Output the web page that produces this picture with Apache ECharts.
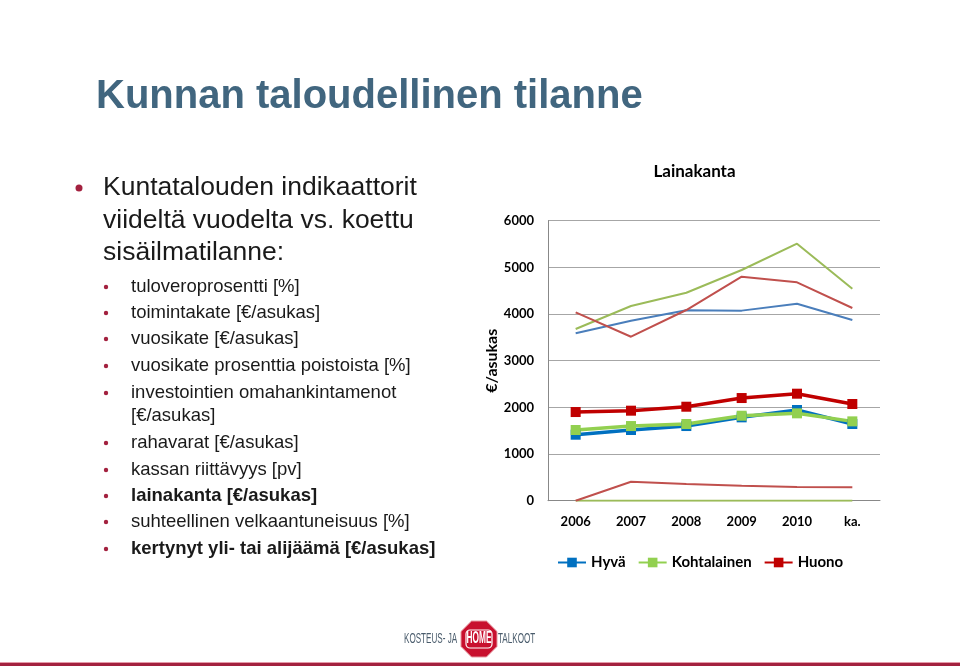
<!DOCTYPE html>
<html><head><meta charset="utf-8">
<script src="https://cdn.jsdelivr.net/npm/echarts@6/dist/echarts.min.js"></script>
<style>html,body{margin:0;padding:0;background:#fff}#c{width:960px;height:666px}</style>
</head><body><div id="c"></div>
<script>
const categories = ['2006','2007','2008','2009','2010','ka.'];
const hyva = [1414, 1515, 1600, 1786, 1943, 1643];
const kohtalainen = [1515, 1600, 1643, 1821, 1872, 1700];
const huono = [1900, 1929, 2014, 2200, 2293, 2072];
const thinBlue = [3587, 3857, 4080, 4073, 4221, 3872];
const thinGreen = [3679, 4172, 4457, 4943, 5507, 4543];
const thinRed = [4036, 3514, 4086, 4800, 4679, 4129];
const thinGreenLow = [0, 0, 0, 0, 0, 0];
const thinRedLow = [0, 407, 357, 321, 293, 286];
const yTicks = [0, 1000, 2000, 3000, 4000, 5000, 6000];

const chartTitle = 'Lainakanta';
const slideTitle = 'Kunnan taloudellinen tilanne';
const mainBullet = ['Kuntatalouden indikaattorit', 'viideltä vuodelta vs. koettu', 'sisäilmatilanne:'];
const subBullets = [
  {t:'tuloveroprosentti [%]', b:false},
  {t:'toimintakate [€/asukas]', b:false},
  {t:'vuosikate [€/asukas]', b:false},
  {t:'vuosikate prosenttia poistoista [%]', b:false},
  {t:'investointien omahankintamenot', b:false, cont:'[€/asukas]'},
  {t:'rahavarat [€/asukas]', b:false},
  {t:'kassan riittävyys [pv]', b:false},
  {t:'lainakanta [€/asukas]', b:true},
  {t:'suhteellinen velkaantuneisuus [%]', b:false},
  {t:'kertynyt yli- tai alijäämä [€/asukas]', b:true}
];

const chartFont = 'Lato, "Open Sans", sans-serif';
const slideFont = '"Liberation Sans", Arial, sans-serif';

const graphics = [];
graphics.push({type:'text', x:96, y:97, style:{text:slideTitle, font:'bold 40px '+slideFont, fill:'#41667F', verticalAlign:'middle'}});
const mainYs = [188, 221, 253];
mainBullet.forEach((t,i)=>{
  graphics.push({type:'text', x:103, y:mainYs[i], style:{text:t, font:'26.5px '+slideFont, fill:'#1a1a1a', verticalAlign:'middle'}});
});
graphics.push({type:'circle', shape:{cx:79, cy:188, r:3.5}, style:{fill:'#A3213F'}});
const subYs = [287, 313, 339, 366, 393, 443, 470, 496, 522, 549];
subBullets.forEach((s,i)=>{
  const yy = subYs[i];
  graphics.push({type:'circle', shape:{cx:106, cy:yy, r:2.2}, style:{fill:'#A3213F'}});
  graphics.push({type:'text', x:131, y:yy, style:{text:s.t, font:(s.b?'bold ':'')+'18.5px '+slideFont, fill:'#1a1a1a', verticalAlign:'middle'}});
  if (s.cont) graphics.push({type:'text', x:131, y:yy+23, style:{text:s.cont, font:'18.5px '+slideFont, fill:'#1a1a1a', verticalAlign:'middle'}});
});
graphics.push({type:'text', x:694.5, y:172, style:{text:chartTitle, font:'bold 17px '+chartFont, fill:'#000', align:'center', verticalAlign:'middle'}});
// logo
graphics.push({type:'text', x:404, y:639, scaleX:0.54, style:{text:'KOSTEUS- JA', font:'15px '+slideFont, fill:'#4A5C6C', verticalAlign:'middle'}});
graphics.push({type:'polygon', shape:{points:(function(){const p=[];for(let k=0;k<8;k++){const a=Math.PI/8+k*Math.PI/4;p.push([479+19.5*Math.cos(a),639+19.5*Math.sin(a)]);}return p;})()}, style:{fill:'#C8102E', stroke:'#E7A0A8', lineWidth:1}});
graphics.push({type:'rect', shape:{x:466, y:630, width:26, height:18, r:4}, style:{fill:'none', stroke:'#fff', lineWidth:1.2}});
graphics.push({type:'text', x:479, y:639, scaleX:0.52, style:{text:'HOME', font:'bold 16px '+slideFont, fill:'#fff', align:'center', verticalAlign:'middle'}});
graphics.push({type:'text', x:498, y:639, scaleX:0.54, style:{text:'TALKOOT', font:'15px '+slideFont, fill:'#4A5C6C', verticalAlign:'middle'}});
graphics.push({type:'rect', shape:{x:0, y:663, width:960, height:3}, style:{fill:'#A3213F'}});
graphics.push({type:'rect', shape:{x:0, y:662, width:960, height:1}, style:{fill:'#E59AA8'}});

function thin(name, data, color){
  return {name, type:'line', data, symbol:'none', lineStyle:{width:2, color}, itemStyle:{color}, z:1, silent:true};
}
function thick(name, data, color){
  return {name, type:'line', data, symbol:'rect', symbolSize:10, lineStyle:{width:3.5, color}, itemStyle:{color}, z:3};
}

const chart = echarts.init(document.getElementById('c'));
chart.setOption({
  animation:false,
  backgroundColor:'#fff',
  legend:{data:['Hyvä','Kohtalainen','Huono'], left:552, top:550, itemWidth:28, itemHeight:12, itemGap:12,
    textStyle:{fontFamily:chartFont, fontSize:15, fontWeight:'bold', color:'#000'}},
  grid:{left:548, right:80, top:220.7, bottom:165.3, containLabel:false},
  xAxis:{type:'category', data:categories, boundaryGap:true,
    axisLine:{lineStyle:{color:'#888', width:1}}, axisTick:{show:false},
    axisLabel:{fontFamily:chartFont, fontSize:13, fontWeight:'bold', color:'#000', margin:15}},
  yAxis:{type:'value', min:yTicks[0], max:yTicks[yTicks.length-1], interval:1000,
    name:'€/asukas', nameLocation:'middle', nameGap:47, nameRotate:90,
    nameTextStyle:{fontFamily:chartFont, fontSize:16, fontWeight:'bold', color:'#000'},
    axisLine:{show:true, lineStyle:{color:'#888'}}, axisTick:{show:false},
    splitLine:{lineStyle:{color:'#A6A6A6'}},
    axisLabel:{fontFamily:chartFont, fontSize:13, fontWeight:'bold', color:'#000', margin:14, formatter:v=>String(v)}},
  graphic:graphics,
  series:[
    thin('b', thinBlue, '#4A7EBB'),
    thin('g', thinGreen, '#9BBB59'),
    thin('r', thinRed, '#C0504D'),
    thin('gl', thinGreenLow, '#9BBB59'),
    thin('rl', thinRedLow, '#C0504D'),
    thick('Hyvä', hyva, '#0070C0'),
    thick('Kohtalainen', kohtalainen, '#92D050'),
    thick('Huono', huono, '#C00000')
  ]
});
</script></body></html>
